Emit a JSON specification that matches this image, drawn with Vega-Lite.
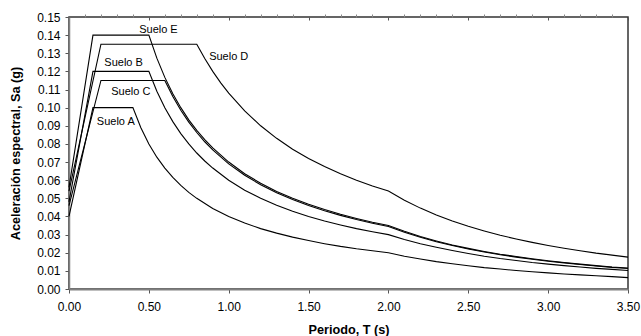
{
  "$schema": "https://vega.github.io/schema/vega-lite/v6.json",
  "width": 559,
  "height": 272,
  "autosize": {"type": "none"},
  "padding": {"left": 69, "top": 17, "right": 13, "bottom": 47},
  "background": "white",
  "config": {
    "font": "Liberation Sans",
    "view": {"stroke": "#333333", "strokeWidth": 1.5},
    "axis": {"grid": false, "labelColor": "#000000", "titleColor": "#000000", "labelFont": "Liberation Sans", "titleFont": "Liberation Sans", "labelOverlap": false, "labelBound": false, "labelFlush": false, "ticks": true, "tickOpacity": 1}
  },
  "datasets": {
    "curves": [
      {"s": "A", "T": 0, "Sa": 0.04}, {"s": "A", "T": 0.15, "Sa": 0.1}, {"s": "A", "T": 0.4, "Sa": 0.1},
      {"s": "A", "T": 0.45, "Sa": 0.0889}, {"s": "A", "T": 0.5, "Sa": 0.08}, {"s": "A", "T": 0.55, "Sa": 0.0727},
      {"s": "A", "T": 0.6, "Sa": 0.0667}, {"s": "A", "T": 0.65, "Sa": 0.0615}, {"s": "A", "T": 0.7, "Sa": 0.0571},
      {"s": "A", "T": 0.75, "Sa": 0.0533}, {"s": "A", "T": 0.8, "Sa": 0.05}, {"s": "A", "T": 0.9, "Sa": 0.0444},
      {"s": "A", "T": 1.0, "Sa": 0.04}, {"s": "A", "T": 1.1, "Sa": 0.0364}, {"s": "A", "T": 1.2, "Sa": 0.0333},
      {"s": "A", "T": 1.3, "Sa": 0.0308}, {"s": "A", "T": 1.4, "Sa": 0.0286}, {"s": "A", "T": 1.5, "Sa": 0.0267},
      {"s": "A", "T": 1.6, "Sa": 0.025}, {"s": "A", "T": 1.7, "Sa": 0.0235}, {"s": "A", "T": 1.8, "Sa": 0.0222},
      {"s": "A", "T": 1.9, "Sa": 0.0211}, {"s": "A", "T": 2.0, "Sa": 0.02}, {"s": "A", "T": 2.1, "Sa": 0.0181},
      {"s": "A", "T": 2.2, "Sa": 0.0165}, {"s": "A", "T": 2.3, "Sa": 0.0151}, {"s": "A", "T": 2.4, "Sa": 0.0139},
      {"s": "A", "T": 2.5, "Sa": 0.0128}, {"s": "A", "T": 2.6, "Sa": 0.0118}, {"s": "A", "T": 2.7, "Sa": 0.011},
      {"s": "A", "T": 2.8, "Sa": 0.0102}, {"s": "A", "T": 2.9, "Sa": 0.0095}, {"s": "A", "T": 3.0, "Sa": 0.0089},
      {"s": "A", "T": 3.1, "Sa": 0.0083}, {"s": "A", "T": 3.2, "Sa": 0.0078}, {"s": "A", "T": 3.3, "Sa": 0.0073},
      {"s": "A", "T": 3.4, "Sa": 0.0068}, {"s": "A", "T": 3.5, "Sa": 0.0063},

      {"s": "B", "T": 0, "Sa": 0.048}, {"s": "B", "T": 0.15, "Sa": 0.12}, {"s": "B", "T": 0.5, "Sa": 0.12},
      {"s": "B", "T": 0.55, "Sa": 0.1091}, {"s": "B", "T": 0.6, "Sa": 0.1}, {"s": "B", "T": 0.65, "Sa": 0.0923},
      {"s": "B", "T": 0.7, "Sa": 0.0857}, {"s": "B", "T": 0.75, "Sa": 0.08}, {"s": "B", "T": 0.8, "Sa": 0.075},
      {"s": "B", "T": 0.85, "Sa": 0.0706}, {"s": "B", "T": 0.9, "Sa": 0.0667}, {"s": "B", "T": 1.0, "Sa": 0.06},
      {"s": "B", "T": 1.1, "Sa": 0.0545}, {"s": "B", "T": 1.2, "Sa": 0.05}, {"s": "B", "T": 1.3, "Sa": 0.0462},
      {"s": "B", "T": 1.4, "Sa": 0.0429}, {"s": "B", "T": 1.5, "Sa": 0.04}, {"s": "B", "T": 1.6, "Sa": 0.0375},
      {"s": "B", "T": 1.7, "Sa": 0.0353}, {"s": "B", "T": 1.8, "Sa": 0.0333}, {"s": "B", "T": 1.9, "Sa": 0.0316},
      {"s": "B", "T": 2.0, "Sa": 0.03}, {"s": "B", "T": 2.1, "Sa": 0.0273}, {"s": "B", "T": 2.2, "Sa": 0.025},
      {"s": "B", "T": 2.3, "Sa": 0.023}, {"s": "B", "T": 2.4, "Sa": 0.0212}, {"s": "B", "T": 2.5, "Sa": 0.0196},
      {"s": "B", "T": 2.6, "Sa": 0.0181}, {"s": "B", "T": 2.7, "Sa": 0.0168}, {"s": "B", "T": 2.8, "Sa": 0.0157},
      {"s": "B", "T": 2.9, "Sa": 0.0146}, {"s": "B", "T": 3.0, "Sa": 0.0137}, {"s": "B", "T": 3.1, "Sa": 0.0129},
      {"s": "B", "T": 3.2, "Sa": 0.0121}, {"s": "B", "T": 3.3, "Sa": 0.0114}, {"s": "B", "T": 3.4, "Sa": 0.0108},
      {"s": "B", "T": 3.5, "Sa": 0.0102},

      {"s": "C", "T": 0, "Sa": 0.046}, {"s": "C", "T": 0.2, "Sa": 0.115}, {"s": "C", "T": 0.6, "Sa": 0.115},
      {"s": "C", "T": 0.65, "Sa": 0.1062}, {"s": "C", "T": 0.7, "Sa": 0.0986}, {"s": "C", "T": 0.75, "Sa": 0.092},
      {"s": "C", "T": 0.8, "Sa": 0.0863}, {"s": "C", "T": 0.85, "Sa": 0.0812}, {"s": "C", "T": 0.9, "Sa": 0.0767},
      {"s": "C", "T": 1.0, "Sa": 0.069}, {"s": "C", "T": 1.1, "Sa": 0.0627}, {"s": "C", "T": 1.2, "Sa": 0.0575},
      {"s": "C", "T": 1.3, "Sa": 0.0531}, {"s": "C", "T": 1.4, "Sa": 0.0493}, {"s": "C", "T": 1.5, "Sa": 0.046},
      {"s": "C", "T": 1.6, "Sa": 0.0431}, {"s": "C", "T": 1.7, "Sa": 0.0406}, {"s": "C", "T": 1.8, "Sa": 0.0383},
      {"s": "C", "T": 1.9, "Sa": 0.0363}, {"s": "C", "T": 2.0, "Sa": 0.0345}, {"s": "C", "T": 2.1, "Sa": 0.0313},
      {"s": "C", "T": 2.2, "Sa": 0.0285}, {"s": "C", "T": 2.3, "Sa": 0.0261}, {"s": "C", "T": 2.4, "Sa": 0.024},
      {"s": "C", "T": 2.5, "Sa": 0.0221}, {"s": "C", "T": 2.6, "Sa": 0.0204}, {"s": "C", "T": 2.7, "Sa": 0.0189},
      {"s": "C", "T": 2.8, "Sa": 0.0176}, {"s": "C", "T": 2.9, "Sa": 0.0164}, {"s": "C", "T": 3.0, "Sa": 0.0153},
      {"s": "C", "T": 3.1, "Sa": 0.0144}, {"s": "C", "T": 3.2, "Sa": 0.0135}, {"s": "C", "T": 3.3, "Sa": 0.0127},
      {"s": "C", "T": 3.4, "Sa": 0.0119}, {"s": "C", "T": 3.5, "Sa": 0.0113},

      {"s": "D", "T": 0, "Sa": 0.054}, {"s": "D", "T": 0.2, "Sa": 0.135}, {"s": "D", "T": 0.8, "Sa": 0.135},
      {"s": "D", "T": 0.85, "Sa": 0.1271}, {"s": "D", "T": 0.9, "Sa": 0.12}, {"s": "D", "T": 0.95, "Sa": 0.1137},
      {"s": "D", "T": 1.0, "Sa": 0.108}, {"s": "D", "T": 1.1, "Sa": 0.0982}, {"s": "D", "T": 1.2, "Sa": 0.09},
      {"s": "D", "T": 1.3, "Sa": 0.0831}, {"s": "D", "T": 1.4, "Sa": 0.0771}, {"s": "D", "T": 1.5, "Sa": 0.072},
      {"s": "D", "T": 1.6, "Sa": 0.0675}, {"s": "D", "T": 1.7, "Sa": 0.0635}, {"s": "D", "T": 1.8, "Sa": 0.06},
      {"s": "D", "T": 1.9, "Sa": 0.0568}, {"s": "D", "T": 2.0, "Sa": 0.054}, {"s": "D", "T": 2.1, "Sa": 0.049},
      {"s": "D", "T": 2.2, "Sa": 0.0446}, {"s": "D", "T": 2.3, "Sa": 0.0408}, {"s": "D", "T": 2.4, "Sa": 0.0375},
      {"s": "D", "T": 2.5, "Sa": 0.0346}, {"s": "D", "T": 2.6, "Sa": 0.032}, {"s": "D", "T": 2.7, "Sa": 0.0296},
      {"s": "D", "T": 2.8, "Sa": 0.0276}, {"s": "D", "T": 2.9, "Sa": 0.0257}, {"s": "D", "T": 3.0, "Sa": 0.024},
      {"s": "D", "T": 3.1, "Sa": 0.0225}, {"s": "D", "T": 3.2, "Sa": 0.0211}, {"s": "D", "T": 3.3, "Sa": 0.0198},
      {"s": "D", "T": 3.4, "Sa": 0.0187}, {"s": "D", "T": 3.5, "Sa": 0.0176},

      {"s": "E", "T": 0, "Sa": 0.056}, {"s": "E", "T": 0.15, "Sa": 0.14}, {"s": "E", "T": 0.5, "Sa": 0.14},
      {"s": "E", "T": 0.55, "Sa": 0.1273}, {"s": "E", "T": 0.6, "Sa": 0.1167}, {"s": "E", "T": 0.65, "Sa": 0.1077},
      {"s": "E", "T": 0.7, "Sa": 0.1}, {"s": "E", "T": 0.75, "Sa": 0.0933}, {"s": "E", "T": 0.8, "Sa": 0.0875},
      {"s": "E", "T": 0.85, "Sa": 0.0824}, {"s": "E", "T": 0.9, "Sa": 0.0778}, {"s": "E", "T": 1.0, "Sa": 0.07},
      {"s": "E", "T": 1.1, "Sa": 0.0636}, {"s": "E", "T": 1.2, "Sa": 0.0583}, {"s": "E", "T": 1.3, "Sa": 0.0538},
      {"s": "E", "T": 1.4, "Sa": 0.05}, {"s": "E", "T": 1.5, "Sa": 0.0467}, {"s": "E", "T": 1.6, "Sa": 0.0438},
      {"s": "E", "T": 1.7, "Sa": 0.0412}, {"s": "E", "T": 1.8, "Sa": 0.0389}, {"s": "E", "T": 1.9, "Sa": 0.0368},
      {"s": "E", "T": 2.0, "Sa": 0.035}, {"s": "E", "T": 2.1, "Sa": 0.0318}, {"s": "E", "T": 2.2, "Sa": 0.0289},
      {"s": "E", "T": 2.3, "Sa": 0.0265}, {"s": "E", "T": 2.4, "Sa": 0.0243}, {"s": "E", "T": 2.5, "Sa": 0.0224},
      {"s": "E", "T": 2.6, "Sa": 0.0207}, {"s": "E", "T": 2.7, "Sa": 0.0192}, {"s": "E", "T": 2.8, "Sa": 0.0179},
      {"s": "E", "T": 2.9, "Sa": 0.0167}, {"s": "E", "T": 3.0, "Sa": 0.0156}, {"s": "E", "T": 3.1, "Sa": 0.0146},
      {"s": "E", "T": 3.2, "Sa": 0.0137}, {"s": "E", "T": 3.3, "Sa": 0.0129}, {"s": "E", "T": 3.4, "Sa": 0.0121},
      {"s": "E", "T": 3.5, "Sa": 0.0116}
    ],
    "labels1": [
      {"name": "Suelo E", "T": 0.56, "Sa": 0.1428},
      {"name": "Suelo D", "T": 1.0, "Sa": 0.128}
    ],
    "labels2": [
      {"name": "Suelo B", "T": 0.342, "Sa": 0.1245},
      {"name": "Suelo C", "T": 0.387, "Sa": 0.1087},
      {"name": "Suelo A", "T": 0.293, "Sa": 0.092}
    ]
  },
  "layer": [
    {
      "data": {"name": "curves"},
      "mark": {"type": "line", "color": "#000000", "strokeWidth": 1.1},
      "encoding": {
        "x": {
          "field": "T", "type": "quantitative",
          "scale": {"domain": [0, 3.5], "nice": false, "zero": false},
          "axis": {
            "values": [0, 0.5, 1, 1.5, 2, 2.5, 3, 3.5],
            "format": ".2f",
            "labelFontSize": 12,
            "tickSize": 4,
            "labelPadding": 8,
            "tickColor": "#555555",
            "domainColor": "#808080",
            "domainWidth": 2,
            "title": "Periodo, T (s)",
            "titleFontSize": 12.7,
            "titleFontWeight": "bold",
            "titleX": 279.5,
            "titleY": 44,
            "titleAlign": "center",
            "titleBaseline": "alphabetic"
          }
        },
        "y": {
          "field": "Sa", "type": "quantitative",
          "scale": {"domain": [0, 0.15], "nice": false},
          "axis": {
            "values": [0, 0.01, 0.02, 0.03, 0.04, 0.05, 0.06, 0.07, 0.08, 0.09, 0.1, 0.11, 0.12, 0.13, 0.14, 0.15],
            "format": ".2f",
            "labelFontSize": 12,
            "tickSize": 4,
            "labelPadding": 5,
            "tickColor": "#555555",
            "tickWidth": 1,
            "domainColor": "#808080",
            "domainWidth": 1.5,
            "title": "Aceleración espectral, Sa (g)",
            "titleFontSize": 12.7,
            "titleFontWeight": "bold",
            "titleX": -54,
            "titleY": 136,
            "titleAngle": -90,
            "titleAlign": "center",
            "titleBaseline": "middle"
          }
        },
        "detail": {"field": "s", "type": "nominal"}
      }
    },
    {
      "data": {"name": "labels1"},
      "mark": {"type": "text", "fontSize": 11, "color": "#000000", "align": "center", "baseline": "middle"},
      "encoding": {
        "x": {
          "field": "T", "type": "quantitative",
          "axis": {
            "values": [0.1, 0.2, 0.3, 0.4, 0.6, 0.7, 0.8, 0.9, 1.1, 1.2, 1.3, 1.4, 1.6, 1.7, 1.8, 1.9, 2.1, 2.2, 2.3, 2.4, 2.6, 2.7, 2.8, 2.9, 3.1, 3.2, 3.3, 3.4],
            "labels": false, "domain": false, "tickSize": 3, "tickColor": "#888888", "title": null
          }
        },
        "y": {"field": "Sa", "type": "quantitative", "axis": null},
        "text": {"field": "name", "type": "nominal"}
      }
    },
    {
      "data": {"name": "labels2"},
      "mark": {"type": "text", "fontSize": 11, "color": "#000000", "align": "center", "baseline": "middle"},
      "encoding": {
        "x": {
          "field": "T", "type": "quantitative",
          "axis": {
            "values": [0, 0.5, 1, 1.5, 2, 2.5, 3, 3.5],
            "labels": false, "domain": false, "tickSize": 3, "offset": -3, "tickColor": "#555555", "title": null
          }
        },
        "y": {"field": "Sa", "type": "quantitative", "axis": null},
        "text": {"field": "name", "type": "nominal"}
      }
    }
  ],
  "resolve": {"axis": {"x": "independent", "y": "independent"}}
}
